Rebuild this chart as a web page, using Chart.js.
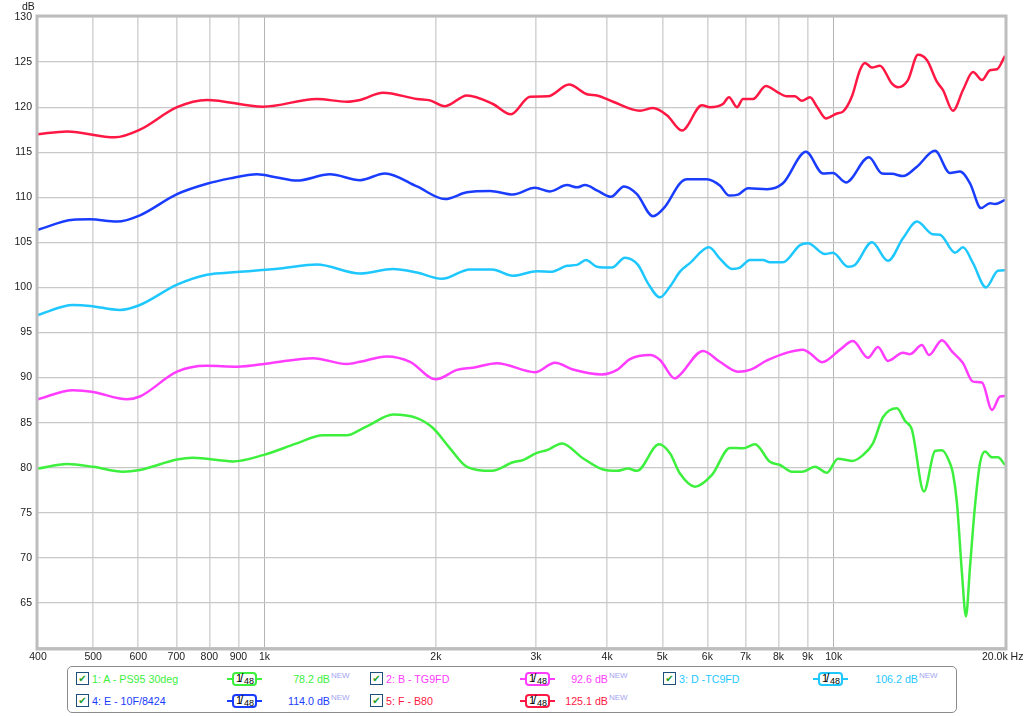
<!DOCTYPE html>
<html>
<head>
<meta charset="utf-8">
<script src="https://cdn.jsdelivr.net/npm/chart.js@4.4.1/dist/chart.umd.min.js"></script>
<style>
  body { margin: 0; background: #fff; overflow: hidden; width: 1024px; height: 716px; position: relative;
         font-family: "Liberation Sans", Arial, sans-serif; }
  #wrap { position: absolute; left: 0; top: 0; width: 1060px; height: 664px; }
  #legend { position: absolute; left: 67px; top: 666px; width: 890px; height: 47px; box-sizing: border-box;
            border: 1px solid #8c8c8c; border-radius: 5px; }
  .cb { position: absolute; width: 11px; height: 11px; border: 1px solid #1d4f7c; background: #fff;
        font-size: 10px; line-height: 11px; text-align: center; color: #1fa01f; font-family: "DejaVu Sans"; }
  .name, .val, .new { position: absolute; font-size: 10.7px; line-height: 14px; white-space: nowrap; }
  .new { font-size: 8px; line-height: 9px; color: #a3a3f0; }
  .pl { position: absolute; height: 2px; }
  .pill { position: absolute; width: 21px; height: 10px; border: 2px solid; border-radius: 4px; background: #fff;
          color: #000; white-space: nowrap; }
  .pill span { position: absolute; line-height: 10px; }
</style>
</head>
<body>
<div id="wrap"><canvas id="fr-chart" width="1060" height="664"></canvas></div>
<div id="legend"></div>
<script>
// frequency (Hz) / level (dB) pairs for each trace
let freqA = [400,450,500,564,604,702,749,880,994,1140,1267,1396,1472,1531,1682,1853,1977,2118,2268,2510,2733,2846,3011,3136,3331,3627,3933,4162,4351,4512,4932,5157,5370,5706,6112,6574,6929,7274,7726,8051,8448,8796,9271,9732,10175,10768,11258,11722,12207,12918,13343,13726,14409,15068,15498,16010,16205,16466,16804,17077,17360,17710,18075,18445,18975,19436,20000]
let dbA = [79.9,80.4,80.1,79.55,79.75,80.9,81.1,80.7,81.4,82.7,83.6,83.6,84.2,84.75,85.9,85.5,84.4,82.15,80.1,79.65,80.6,80.85,81.65,81.95,82.7,81.05,79.8,79.65,79.9,79.65,82.6,81.6,79.35,77.9,79.2,82.2,82.15,82.6,80.65,80.3,79.55,79.55,80.1,79.45,81.0,80.75,81.4,82.7,85.6,86.6,85.2,84.2,77.35,81.85,81.95,80.5,79.35,76.1,68.3,63.5,69.0,75.7,80.5,81.8,81.15,81.15,80.3]

let freqB = [400,461,500,573,604,702,792,895,1022,1217,1396,1472,1641,1802,2000,2179,2324,2561,2987,3239,3483,3917,4162,4387,4757,4953,5263,5370,5894,6311,6790,7127,7635,8312,8832,9086,9537,10260,10811,11488,11963,12456,13236,13620,14292,14704,15498,16137,16875,17572,18225,18975,19600,20000]
let dbB = [87.6,88.6,88.4,87.6,87.9,90.65,91.3,91.2,91.6,92.15,91.5,91.75,92.35,91.75,89.8,90.85,91.1,91.6,90.6,91.65,90.9,90.35,90.85,92.05,92.5,91.95,89.9,90.3,92.95,91.75,90.65,90.85,91.9,92.8,93.1,92.7,91.7,93.1,94.05,92.2,93.4,91.85,92.75,92.6,93.6,92.5,94.15,92.9,91.6,89.55,89.45,86.4,87.9,87.95]

let freqD = [400,461,494,557,604,702,792,895,1065,1236,1472,1682,1853,2050,2296,2510,2733,3011,3200,3400,3540,3671,3838,4078,4298,4531,4718,4953,5157,5370,5590,6039,6311,6627,6846,7127,7512,7726,8145,8727,9012,9654,9971,10595,10899,11676,12456,13236,14007,14943,15376,16335,16875,17572,18519,19436,20000]
let dbD = [96.95,98.05,97.95,97.5,98.05,100.3,101.4,101.7,102.1,102.55,101.55,102.05,101.65,100.95,102.0,102.0,101.3,101.8,101.75,102.4,102.5,103.05,102.3,102.2,103.3,102.5,100.45,98.9,100.1,101.75,102.7,104.45,103.2,102.05,102.2,103.05,103.05,102.8,102.8,104.7,104.9,103.7,103.85,102.3,102.5,105.0,102.95,105.45,107.3,105.9,105.85,103.85,104.45,102.7,100.0,101.85,101.9]

let freqE = [400,461,494,551,604,702,792,870,970,1052,1140,1303,1472,1628,1853,2075,2268,2490,2733,2987,3174,3400,3540,3657,3854,4062,4281,4512,4814,5054,5370,5524,5990,6311,6547,6790,7071,7635,8145,8940,9576,9971,10510,11534,12158,12660,13236,14007,15068,16010,16670,17360,18148,18823,19210,20000]
let dbE = [106.4,107.5,107.55,107.3,108.0,110.35,111.5,112.1,112.55,112.2,111.85,112.55,111.9,112.65,111.2,109.8,110.55,110.7,110.3,111.05,110.65,111.35,111.1,111.35,110.7,110.05,111.2,110.35,107.9,108.95,111.55,112.0,112.0,111.3,110.2,110.3,111.0,110.9,111.55,115.05,112.65,112.7,111.65,114.45,112.65,112.6,112.35,113.4,115.15,112.7,112.85,111.55,108.8,109.35,109.25,109.7]

let freqF = [400,450,546,604,702,792,994,1236,1396,1472,1615,1853,1953,2075,2268,2520,2710,2927,3148,3427,3701,3838,4095,4568,4814,5095,5414,5870,6062,6390,6547,6763,6929,7215,7604,7950,8278,8551,8796,9086,9348,9694,10134,10384,10768,11120,11350,11676,12060,12660,12970,13506,14065,14588,15190,15563,16205,16875,17572,18225,18823,19364,20000]
let dbF = [117.0,117.3,116.65,117.5,120.0,120.8,120.05,120.9,120.6,120.8,121.6,120.9,120.75,120.1,121.3,120.35,119.2,121.15,121.2,122.5,121.4,121.3,120.6,119.6,119.9,119.1,117.4,120.2,120.0,120.35,121.1,120.0,120.9,120.9,122.35,121.7,121.2,121.2,120.7,121.1,120.05,118.75,119.3,119.5,121.2,124.1,124.9,124.4,124.6,122.6,122.2,123.0,125.8,125.2,122.8,121.9,119.6,121.9,123.9,123.0,124.1,124.2,125.7]

let xTicks = [400,500,600,700,800,900,1000,2000,3000,4000,5000,6000,7000,8000,9000,10000,20000]

let traceNames = ["1: A - PS95 30deg", "2: B - TG9FD", "3: D -TC9FD", "4: E - 10F/8424", "5: F - B80"]
let traceLevels = ["78.2 dB", "92.6 dB", "106.2 dB", "114.0 dB", "125.1 dB"]
let traceColors = ["#3ef03e", "#ff3cff", "#1ec8ff", "#1a3cff", "#ff1844"]

function pts(fs, ds) {
  return fs.map((f, i) => ({ x: f, y: ds[i] }))
}

let series = [pts(freqA, dbA), pts(freqB, dbB), pts(freqD, dbD), pts(freqE, dbE), pts(freqF, dbF)]

const tickFont = '10.5px "Liberation Sans", Arial, sans-serif'
Chart.defaults.font.family = '"Liberation Sans", Arial, sans-serif'
Chart.defaults.font.size = 10.5
Chart.defaults.color = '#222'

const frame = {
  id: 'frame',
  afterDraw(chart) {
    const { ctx, chartArea: a } = chart
    ctx.save()
    ctx.strokeStyle = '#bdbdbd'
    ctx.lineWidth = 3
    ctx.strokeRect(a.left - 1, a.top - 1, a.right - a.left + 2, a.bottom - a.top + 2)
    ctx.fillStyle = '#222'
    ctx.font = tickFont
    ctx.textAlign = 'left'
    ctx.textBaseline = 'alphabetic'
    ctx.fillText('dB', 22, 10)
    // last x label sits left of the frame edge, as in the original
    ctx.textBaseline = 'middle'
    ctx.fillText('20.0k Hz', 982, a.bottom + 9)
    ctx.restore()
  }
}

new Chart(document.getElementById('fr-chart').getContext('2d'), {
  type: 'line',
  data: {
    datasets: series.map((d, i) => ({
      label: traceNames[i],
      data: d,
      borderColor: traceColors[i],
      borderWidth: 2.5,
      pointRadius: 0,
      fill: false,
      cubicInterpolationMode: 'monotone'
    }))
  },
  options: {
    responsive: false,
    animation: false,
    layout: { padding: { left: 0, right: 55, top: 17, bottom: 0 } },
    plugins: { legend: { display: false }, tooltip: { enabled: false } },
    scales: {
      x: {
        type: 'logarithmic',
        min: 400,
        max: 20000,
        afterBuildTicks: s => { s.ticks = xTicks.map(v => ({ value: v })) },
        afterFit: s => { s.height = 16 },
        border: { display: false },
        grid: {
          drawTicks: false,
          color: c => {
            let v = c.tick && c.tick.value
            if (v === 400 || v === 20000) return 'rgba(0,0,0,0)'
            return (v === 1000 || v === 10000) ? '#b4b4b4' : '#d6d6d6'
          },
          lineWidth: c => {
            let v = c.tick && c.tick.value
            return (v === 1000 || v === 10000) ? 1 : 1.6
          }
        },
        ticks: {
          autoSkip: false,
          maxRotation: 0,
          padding: 3,
          callback: v => v < 1000 ? String(v) : (v === 20000 ? '' : (v / 1000) + 'k')
        }
      },
      y: {
        min: 60,
        max: 130,
        afterFit: s => { s.width = 38 },
        border: { display: false },
        grid: { drawTicks: false, color: '#c8c8c8', lineWidth: 1.2 },
        ticks: {
          stepSize: 5,
          padding: 6,
          callback: v => v === 60 ? '' : String(v)
        }
      }
    }
  },
  plugins: [frame]
})

// legend box under the plot
let slots = [[0, 0], [0, 1], [0, 2], [1, 0], [1, 1]]
let colX = [76, 370, 663]
let pillX = [227, 520, 813]
let valRight = [330, 608, 918]
let rowY = [679, 701]
let html = ''
slots.forEach(([r, c], i) => {
  let col = traceColors[i], cy = rowY[r]
  html += `<div class="cb" style="left:${colX[c]}px;top:${cy - 7}px">&#10004;</div>`
  html += `<div class="name" style="left:${colX[c] + 16}px;top:${cy - 7}px;color:${col}">${traceNames[i]}</div>`
  html += `<div class="pl" style="left:${pillX[c]}px;top:${cy - 1}px;width:35px;background:${col}"></div>`
  html += `<div class="pill" style="left:${pillX[c] + 5}px;top:${cy - 7}px;border-color:${col}">` +
          `<span style="font-size:11px;left:2px;top:-1px">1</span>` +
          `<span style="font-size:12px;left:6px;top:-1px">/</span>` +
          `<span style="font-size:9px;left:10px;top:2px">48</span></div>`
  html += `<div class="val" style="right:${1024 - valRight[c]}px;top:${cy - 7}px;color:${col}">${traceLevels[i]}</div>`
  html += `<div class="new" style="left:${valRight[c] + 1}px;top:${cy - 8}px">NEW</div>`
})
document.body.insertAdjacentHTML('beforeend', html)
</script>
</body>
</html>
